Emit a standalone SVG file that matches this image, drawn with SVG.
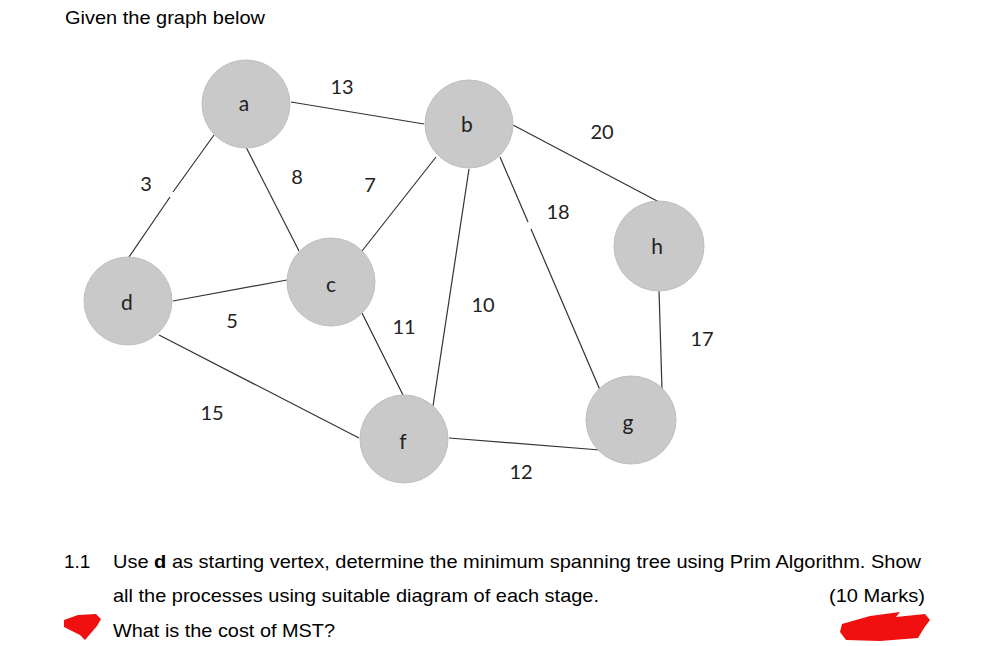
<svg xmlns="http://www.w3.org/2000/svg" width="987" height="646" viewBox="0 0 987 646">
<style>
.node{fill:#c9c9c9;stroke:#bfbfbf;stroke-width:1}
.nl{font-family:Lato,"Open Sans",sans-serif;font-size:21px;fill:#222;text-anchor:middle}
.el{font-family:Lato,"Open Sans",sans-serif;font-size:20px;fill:#222;text-anchor:middle}
.edge{stroke:#333;stroke-width:1.2;fill:none}
.t{font-family:"Liberation Sans",Arial,sans-serif;font-size:19px;fill:#000}
.red{fill:#f01010}
</style>
<rect width="987" height="646" fill="#fff"/>
<text class="t" x="65" y="24" textLength="200" lengthAdjust="spacingAndGlyphs">Given the graph below</text>
<g id="connectors">
<line class="edge" x1="214" y1="135" x2="173" y2="192"/>
<line class="edge" x1="170" y1="197" x2="129" y2="257"/>
<line class="edge" x1="291" y1="102" x2="424" y2="124"/>
<line class="edge" x1="246" y1="147" x2="299" y2="251"/>
<line class="edge" x1="173" y1="301" x2="287" y2="280"/>
<line class="edge" x1="362" y1="251" x2="436" y2="157"/>
<line class="edge" x1="469" y1="169" x2="433" y2="406"/>
<line class="edge" x1="500" y1="157" x2="528" y2="222"/>
<line class="edge" x1="531" y1="229" x2="600" y2="390"/>
<line class="edge" x1="513" y1="125" x2="659" y2="202"/>
<line class="edge" x1="659" y1="290" x2="662" y2="390"/>
<line class="edge" x1="362" y1="313" x2="403" y2="395"/>
<line class="edge" x1="159" y1="335" x2="359" y2="438"/>
<line class="edge" x1="449" y1="438" x2="600" y2="450"/>
</g>
<g id="node-a"><circle class="node" cx="246" cy="104" r="44"/><text class="nl" x="244" y="111">a</text></g>
<g id="node-d"><circle class="node" cx="128" cy="301" r="44"/><text class="nl" x="127" y="310">d</text></g>
<g id="node-c"><circle class="node" cx="331" cy="282" r="44"/><text class="nl" x="331" y="292">c</text></g>
<g id="node-b"><circle class="node" cx="469" cy="124" r="44"/><text class="nl" x="467" y="132">b</text></g>
<g id="node-h"><circle class="node" cx="659" cy="246" r="45"/><text class="nl" x="657" y="254">h</text></g>
<g id="node-f"><circle class="node" cx="404" cy="439" r="44"/><text class="nl" x="403" y="449">f</text></g>
<g id="node-g"><ellipse class="node" cx="631" cy="420" rx="45" ry="44"/><text class="nl" x="628" y="430">g</text></g>
<g id="edge-labels">
<text class="el" x="342" y="94">13</text>
<text class="el" x="146" y="191">3</text>
<text class="el" x="297" y="184">8</text>
<text class="el" x="370" y="192">7</text>
<text class="el" x="602" y="139">20</text>
<text class="el" x="558" y="219">18</text>
<text class="el" x="232" y="328">5</text>
<text class="el" x="404" y="334">11</text>
<text class="el" x="483" y="312">10</text>
<text class="el" x="702" y="346">17</text>
<text class="el" x="212" y="420">15</text>
<text class="el" x="521" y="479">12</text>
</g>
<text class="t" x="64" y="568">1.1</text>
<text class="t" x="113" y="568" textLength="808" lengthAdjust="spacingAndGlyphs">Use <tspan font-weight="bold">d</tspan> as starting vertex, determine the minimum spanning tree using Prim Algorithm. Show</text>
<text class="t" x="113" y="602" textLength="486" lengthAdjust="spacingAndGlyphs">all the processes using suitable diagram of each stage.</text>
<text class="t" x="829" y="602" textLength="96" lengthAdjust="spacingAndGlyphs">(10 Marks)</text>
<text class="t" x="113" y="637" textLength="222" lengthAdjust="spacingAndGlyphs">What is the cost of MST?</text>
<path class="red" d="M64 620 L78 615 L96 614 L101 619 L97 626 L91 633 L85 640 L80 635 L72 631 L64 627 Z"/>
<path class="red" d="M842 624 L870 616 L900 612 L896 617 L925 614 L930 620 L924 628 L918 638 L880 641 L846 640 L840 632 Z"/>
</svg>
